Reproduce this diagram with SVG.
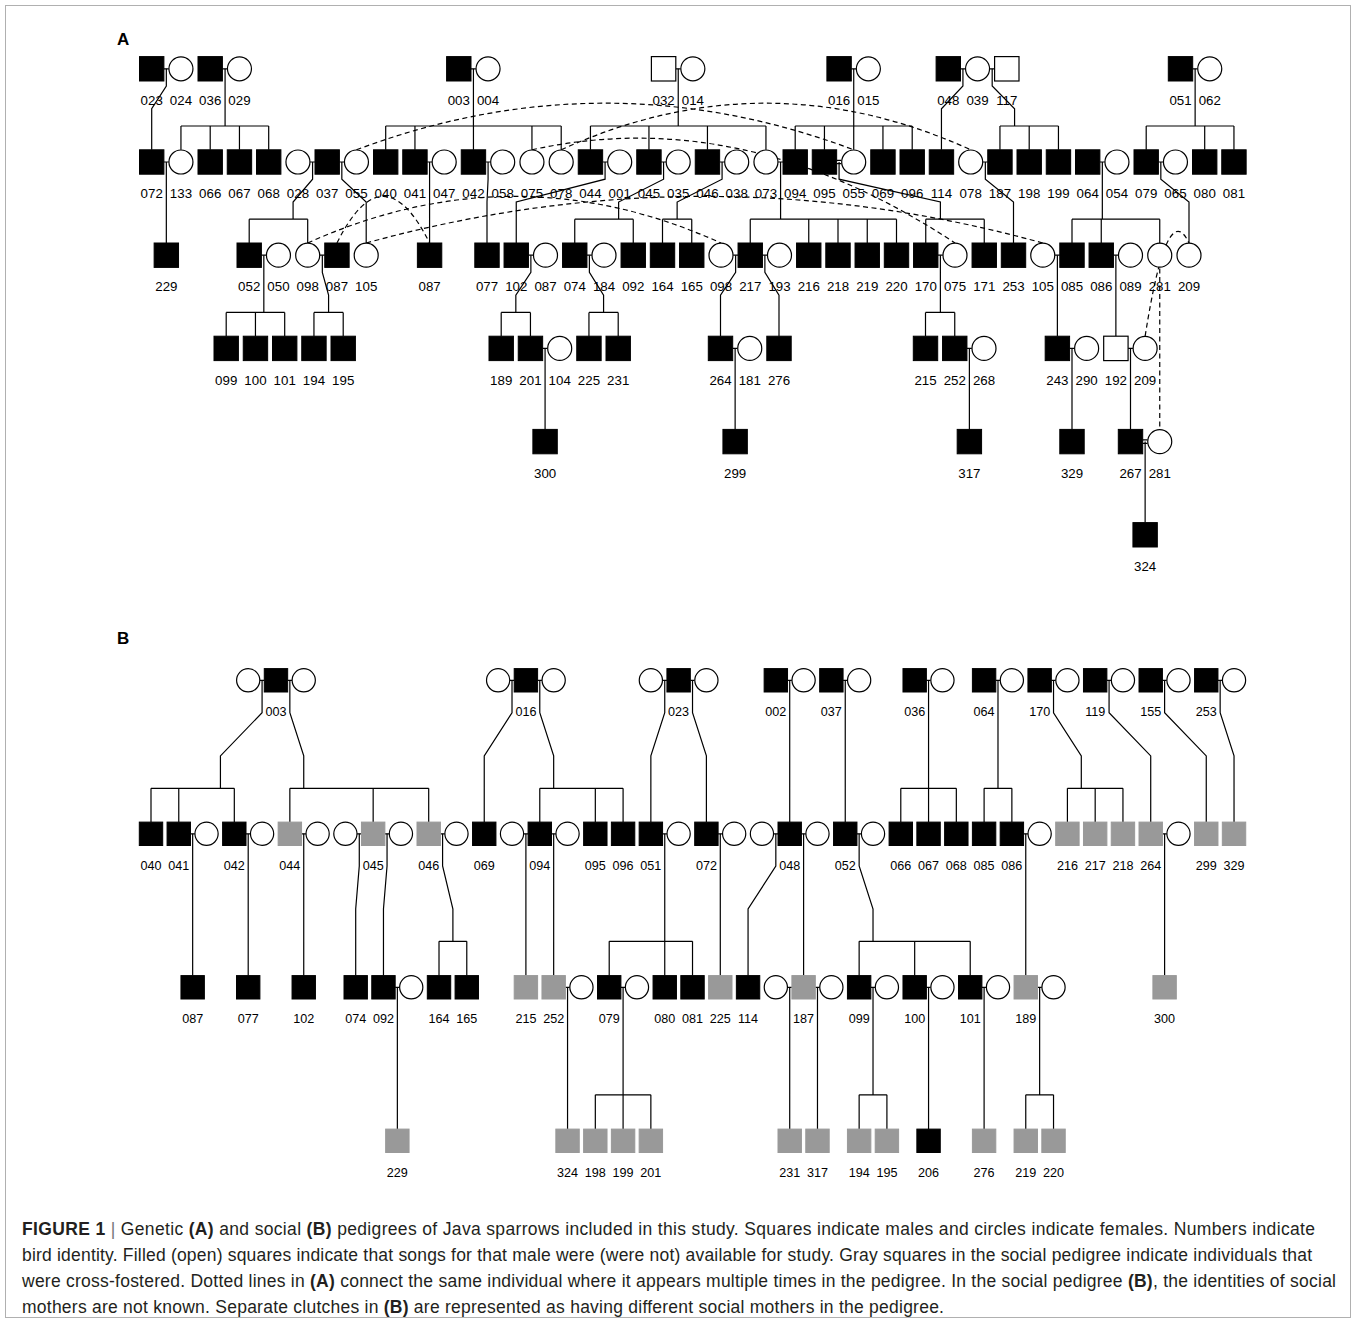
<svg xmlns="http://www.w3.org/2000/svg" width="1356" height="1323" viewBox="0 0 1356 1323">
<style>
.m{fill:#000;stroke:#000;stroke-width:1}
.o{fill:#fff;stroke:#000;stroke-width:1.2}
.g{fill:#999;stroke:#999;stroke-width:1}
.f{fill:#fff;stroke:#000;stroke-width:1.2}
.l{fill:none;stroke:#000;stroke-width:1.2}
.d{fill:none;stroke:#000;stroke-width:1.2;stroke-dasharray:5 3.5}
text{font-family:"Liberation Sans",Arial,sans-serif;fill:#000}
.ta{font-size:13.3px;text-anchor:middle}
.tb{font-size:12.6px;text-anchor:middle}
.hd{font-size:17px;font-weight:bold}
.cap{font-size:17.5px;fill:#231f20}
.bo{font-weight:bold}
</style>
<rect x="5.5" y="5.5" width="1345" height="1312" fill="#fff" stroke="#b0b0b0" stroke-width="1"/>
<text class="hd" x="117" y="45">A</text>
<text class="hd" x="117" y="644">B</text>

<g id="connectors-A">
<path class="l" d="M163.9 68.8H168.75M222.4 68.8H227.25M471 68.8H475.85M675.8 68.8H680.65M851.3 68.8H856.15M960.5 68.8H965.35M989.75 68.8H994.6M1192.7 68.8H1197.55"/>
<path class="l" d="M163.9 162H168.75M310.15 162H315M339.4 162H344.25M427.15 162H432M485.65 162H490.5M602.65 162H607.5M661.15 162H666M719.65 162H724.5M778.15 162H783M836.65 160.4H841.5M836.65 163.6H841.5M982.9 162H987.75M1099.9 162H1104.75M1158.4 162H1163.25"/>
<path class="l" d="M261.4 255.2H266.25M319.9 255.2H324.75M528.45 255.2H533.3M586.95 255.2H591.8M733.2 255.2H738.05M762.45 255.2H767.3M937.95 255.2H942.8M1054.95 255.2H1059.8M1113.45 255.2H1118.3"/>
<path class="l" d="M542.65 348.4H547.5M732.7 348.4H737.55M966.95 348.4H971.8M1069.58 348.4H1074.43M1128.08 348.4H1132.93M1142.7 439.9H1147.55M1142.7 443.3H1147.55"/>
<path class="l" d="M166.33 68.8V86L151.7 108.8V149.8
M225.08 68.8V126M180.95 126H268.7M180.95 126V149.8M210.2 126V149.8M239.45 126V149.8M268.7 126V149.8
M473.43 68.8V126M385.7 126H561.2M385.7 126V149.8M414.95 126V149.8M473.45 126V149.8M531.95 126V149.8M561.2 126V149.8
M678.23 68.8V126M590.45 126H765.95M590.45 126V149.8M648.95 126V149.8M707.45 126V149.8M765.95 126V149.8
M853.73 68.8V149.8M795.2 126H912.2M795.2 126V149.8M824.45 126V149.8M882.95 126V149.8M912.2 126V149.8
M962.93 68.8V86L941.45 108.8V149.8
M992.18 68.8V86L1014.58 108.8V126M999.95 126H1058.45M999.95 126V149.8M1029.2 126V149.8M1058.45 126V149.8
M1195.13 68.8V126M1146.2 126H1233.95M1146.2 126V149.8M1204.7 126V149.8M1233.95 126V149.8"/>
<path class="l" d="M166.33 162V243
M312.58 162V179.2L293.08 202V219.2M249.2 219.2H307.7M249.2 219.2V243M307.7 219.2V243
M341.83 162V179.2L366.2 202V243
M429.58 162V243
M488.08 162V179.2L487 202V243
M605.08 162V179.2L516.25 202V243
M663.58 162V179.2L618.63 202V219.2M574.75 219.2H633.25M574.75 219.2V243M633.25 219.2V243
M722.08 162V179.2L677.13 202V219.2M662.5 219.2H691.75M662.5 219.2V243M691.75 219.2V243
M780.58 162V219.2M750.25 219.2H896.5M750.25 219.2V243M808.75 219.2V243M838 219.2V243M867.25 219.2V243M896.5 219.2V243
M839.08 162V179.2L940.38 202V219.2M925.75 219.2H984.25M925.75 219.2V243M984.25 219.2V243
M985.33 162V179.2L1013.5 202V243
M1102.33 162V219.2M1072 219.2H1159.75M1072 219.2V243M1101.25 219.2V243M1159.75 219.2V243
M1160.83 162V179.2L1189 202V243"/>
<path class="l" d="M263.83 255.2V312.4M226.2 312.4H284.7M226.2 312.4V336.2M255.45 312.4V336.2M284.7 312.4V336.2
M322.33 255.2V272.4L328.58 295.2V312.4M313.95 312.4H343.2M313.95 312.4V336.2M343.2 312.4V336.2
M530.88 255.2V272.4L515.83 295.2V312.4M501.2 312.4H530.45M501.2 312.4V336.2M530.45 312.4V336.2
M589.38 255.2V272.4L603.58 295.2V312.4M588.95 312.4H618.2M588.95 312.4V336.2M618.2 312.4V336.2
M735.63 255.2V272.4L720.5 295.2V336.2
M764.88 255.2V272.4L779 295.2V336.2
M940.38 255.2V312.4M925.5 312.4H954.75M925.5 312.4V336.2M954.75 312.4V336.2
M1057.38 255.2V336.2
M1115.88 255.2V336.2
M545.08 348.4V429.4M735.13 348.4V429.4M969.38 348.4V429.4M1072 348.4V429.4M1130.5 348.4V429.4
M1145.13 441.6V522.6"/>
<path class="d" d="M356.45 149.8Q605.08 56.6 853.7 149.8
M531.95 149.8Q743.48 103.2 955 243
M561.2 149.8Q765.95 56.6 970.7 149.8
M336.95 243Q383.27 149.8 429.58 243
M307.7 243Q514.35 149.8 721 243
M366.2 243Q704.48 149.8 1042.75 243
M1145.13 336.2Q1167.07 196.4 1189 243
M1159.75 243V429.4"/>
</g>

<g id="connectors-B">
<path class="l" d="M259.9 680.3H264.27M287.67 680.3H292.04M509.83 680.3H514.2M537.6 680.3H541.97M662.56 680.3H666.93M690.33 680.3H694.7M787.53 680.3H791.9M843.07 680.3H847.44M926.38 680.3H930.75M995.8 680.3H1000.17M1051.34 680.3H1055.71M1106.88 680.3H1111.25M1162.42 680.3H1166.79M1217.96 680.3H1222.33"/>
<path class="l" d="M190.47 833.8H194.84M246.01 833.8H250.38M301.55 833.8H305.92M357.09 833.8H361.46M384.86 833.8H389.23M440.4 833.8H444.77M523.71 833.8H528.08M551.48 833.8H555.85M662.56 833.8H666.93M718.1 833.8H722.47M773.64 833.8H778.01M801.41 833.8H805.78M856.95 833.8H861.32M1023.57 833.8H1027.94M1162.42 833.8H1166.79"/>
<path class="l" d="M395.17 987.3H399.54M565.37 987.3H569.74M620.91 987.3H625.28M787.53 987.3H791.9M815.3 987.3H819.67M870.84 987.3H875.21M926.38 987.3H930.75M981.92 987.3H986.29M1037.46 987.3H1041.83"/>
<path class="l" d="M262.08 680.3V712.7L220.43 755.9V788.3M151 788.3H234.31M151 788.3V822.1M178.77 788.3V822.1M234.31 788.3V822.1
M289.85 680.3V712.7L303.74 755.9V788.3M289.85 788.3H428.7M289.85 788.3V822.1M373.16 788.3V822.1M428.7 788.3V822.1
M512.01 680.3V712.7L484.24 755.9V822.1
M539.78 680.3V712.7L553.67 755.9V788.3M539.78 788.3H623.09M539.78 788.3V822.1M595.32 788.3V822.1M623.09 788.3V822.1
M664.75 680.3V712.7L650.86 755.9V822.1
M692.52 680.3V712.7L706.4 755.9V822.1
M789.71 680.3V822.1
M845.25 680.3V822.1
M928.56 680.3V822.1M900.79 788.3H956.33M900.79 788.3V822.1M956.33 788.3V822.1
M997.99 680.3V788.3M984.1 788.3H1011.87M984.1 788.3V822.1M1011.87 788.3V822.1
M1053.53 680.3V712.7L1081.3 755.9V788.3M1067.41 788.3H1122.95M1067.41 788.3V822.1M1095.18 788.3V822.1M1122.95 788.3V822.1
M1109.07 680.3V712.7L1150.72 755.9V822.1
M1164.61 680.3V712.7L1206.26 755.9V822.1
M1220.15 680.3V712.7L1234.03 755.9V822.1"/>
<path class="l" d="M192.66 833.8V975.6M248.2 833.8V975.6M303.74 833.8V975.6
M359.28 833.8V866L355.7 909V975.6
M387.05 833.8V866L383.47 909V975.6
M442.59 833.8V866L452.9 909V941.3M439.01 941.3H466.78M439.01 941.3V975.6M466.78 941.3V975.6
M525.9 833.8V975.6M553.67 833.8V975.6
M664.75 833.8V975.6M609.21 941.3H692.52M609.21 941.3V975.6M692.52 941.3V975.6
M720.29 833.8V975.6
M775.83 833.8V866L748.06 909V975.6
M803.6 833.8V975.6
M859.14 833.8V866L873.02 909V941.3M859.14 941.3H970.22M859.14 941.3V975.6M914.68 941.3V975.6M970.22 941.3V975.6
M1025.76 833.8V975.6M1164.61 833.8V975.6"/>
<path class="l" d="M397.36 987.3V1129.1M567.55 987.3V1129.1
M623.09 987.3V1129.1M595.32 1094.8H650.86M595.32 1094.8V1129.1M650.86 1094.8V1129.1
M789.71 987.3V1129.1M817.48 987.3V1129.1
M873.02 987.3V1094.8M859.14 1094.8H886.91M859.14 1094.8V1129.1M886.91 1094.8V1129.1
M928.56 987.3V1129.1M984.1 987.3V1129.1
M1039.64 987.3V1094.8M1025.76 1094.8H1053.53M1025.76 1094.8V1129.1M1053.53 1094.8V1129.1"/>
</g>

<g id="nodes-A">
<g id="a1-023"><rect class="m" x="139.5" y="56.6" width="24.4" height="24.4"/><text class="ta" x="151.7" y="105">023</text></g>
<g id="a1-024"><circle class="f" cx="180.95" cy="68.8" r="12"/><text class="ta" x="180.95" y="105">024</text></g>
<g id="a1-036"><rect class="m" x="198" y="56.6" width="24.4" height="24.4"/><text class="ta" x="210.2" y="105">036</text></g>
<g id="a1-029"><circle class="f" cx="239.45" cy="68.8" r="12"/><text class="ta" x="239.45" y="105">029</text></g>
<g id="a1-003"><rect class="m" x="446.6" y="56.6" width="24.4" height="24.4"/><text class="ta" x="458.8" y="105">003</text></g>
<g id="a1-004"><circle class="f" cx="488.05" cy="68.8" r="12"/><text class="ta" x="488.05" y="105">004</text></g>
<g id="a1-032"><rect class="o" x="651.4" y="56.6" width="24.4" height="24.4"/><text class="ta" x="663.6" y="105">032</text></g>
<g id="a1-014"><circle class="f" cx="692.85" cy="68.8" r="12"/><text class="ta" x="692.85" y="105">014</text></g>
<g id="a1-016"><rect class="m" x="826.9" y="56.6" width="24.4" height="24.4"/><text class="ta" x="839.1" y="105">016</text></g>
<g id="a1-015"><circle class="f" cx="868.35" cy="68.8" r="12"/><text class="ta" x="868.35" y="105">015</text></g>
<g id="a1-048"><rect class="m" x="936.1" y="56.6" width="24.4" height="24.4"/><text class="ta" x="948.3" y="105">048</text></g>
<g id="a1-039"><circle class="f" cx="977.55" cy="68.8" r="12"/><text class="ta" x="977.55" y="105">039</text></g>
<g id="a1-117"><rect class="o" x="994.6" y="56.6" width="24.4" height="24.4"/><text class="ta" x="1006.8" y="105">117</text></g>
<g id="a1-051"><rect class="m" x="1168.3" y="56.6" width="24.4" height="24.4"/><text class="ta" x="1180.5" y="105">051</text></g>
<g id="a1-062"><circle class="f" cx="1209.75" cy="68.8" r="12"/><text class="ta" x="1209.75" y="105">062</text></g>

<g id="a2-072"><rect class="m" x="139.5" y="149.8" width="24.4" height="24.4"/><text class="ta" x="151.7" y="198.2">072</text></g>
<g id="a2-133"><circle class="f" cx="180.95" cy="162" r="12"/><text class="ta" x="180.95" y="198.2">133</text></g>
<g id="a2-066"><rect class="m" x="198" y="149.8" width="24.4" height="24.4"/><text class="ta" x="210.2" y="198.2">066</text></g>
<g id="a2-067"><rect class="m" x="227.25" y="149.8" width="24.4" height="24.4"/><text class="ta" x="239.45" y="198.2">067</text></g>
<g id="a2-068"><rect class="m" x="256.5" y="149.8" width="24.4" height="24.4"/><text class="ta" x="268.7" y="198.2">068</text></g>
<g id="a2-028"><circle class="f" cx="297.95" cy="162" r="12"/><text class="ta" x="297.95" y="198.2">028</text></g>
<g id="a2-037"><rect class="m" x="315" y="149.8" width="24.4" height="24.4"/><text class="ta" x="327.2" y="198.2">037</text></g>
<g id="a2-055a"><circle class="f" cx="356.45" cy="162" r="12"/><text class="ta" x="356.45" y="198.2">055</text></g>
<g id="a2-040"><rect class="m" x="373.5" y="149.8" width="24.4" height="24.4"/><text class="ta" x="385.7" y="198.2">040</text></g>
<g id="a2-041"><rect class="m" x="402.75" y="149.8" width="24.4" height="24.4"/><text class="ta" x="414.95" y="198.2">041</text></g>
<g id="a2-047"><circle class="f" cx="444.2" cy="162" r="12"/><text class="ta" x="444.2" y="198.2">047</text></g>
<g id="a2-042"><rect class="m" x="461.25" y="149.8" width="24.4" height="24.4"/><text class="ta" x="473.45" y="198.2">042</text></g>
<g id="a2-058"><circle class="f" cx="502.7" cy="162" r="12"/><text class="ta" x="502.7" y="198.2">058</text></g>
<g id="a2-075"><circle class="f" cx="531.95" cy="162" r="12"/><text class="ta" x="531.95" y="198.2">075</text></g>
<g id="a2-078a"><circle class="f" cx="561.2" cy="162" r="12"/><text class="ta" x="561.2" y="198.2">078</text></g>
<g id="a2-044"><rect class="m" x="578.25" y="149.8" width="24.4" height="24.4"/><text class="ta" x="590.45" y="198.2">044</text></g>
<g id="a2-001"><circle class="f" cx="619.7" cy="162" r="12"/><text class="ta" x="619.7" y="198.2">001</text></g>
<g id="a2-045"><rect class="m" x="636.75" y="149.8" width="24.4" height="24.4"/><text class="ta" x="648.95" y="198.2">045</text></g>
<g id="a2-035"><circle class="f" cx="678.2" cy="162" r="12"/><text class="ta" x="678.2" y="198.2">035</text></g>
<g id="a2-046"><rect class="m" x="695.25" y="149.8" width="24.4" height="24.4"/><text class="ta" x="707.45" y="198.2">046</text></g>
<g id="a2-038"><circle class="f" cx="736.7" cy="162" r="12"/><text class="ta" x="736.7" y="198.2">038</text></g>
<g id="a2-073"><circle class="f" cx="765.95" cy="162" r="12"/><text class="ta" x="765.95" y="198.2">073</text></g>
<g id="a2-094"><rect class="m" x="783" y="149.8" width="24.4" height="24.4"/><text class="ta" x="795.2" y="198.2">094</text></g>
<g id="a2-095"><rect class="m" x="812.25" y="149.8" width="24.4" height="24.4"/><text class="ta" x="824.45" y="198.2">095</text></g>
<g id="a2-055b"><circle class="f" cx="853.7" cy="162" r="12"/><text class="ta" x="853.7" y="198.2">055</text></g>
<g id="a2-069"><rect class="m" x="870.75" y="149.8" width="24.4" height="24.4"/><text class="ta" x="882.95" y="198.2">069</text></g>
<g id="a2-096"><rect class="m" x="900" y="149.8" width="24.4" height="24.4"/><text class="ta" x="912.2" y="198.2">096</text></g>
<g id="a2-114"><rect class="m" x="929.25" y="149.8" width="24.4" height="24.4"/><text class="ta" x="941.45" y="198.2">114</text></g>
<g id="a2-078b"><circle class="f" cx="970.7" cy="162" r="12"/><text class="ta" x="970.7" y="198.2">078</text></g>
<g id="a2-187"><rect class="m" x="987.75" y="149.8" width="24.4" height="24.4"/><text class="ta" x="999.95" y="198.2">187</text></g>
<g id="a2-198"><rect class="m" x="1017" y="149.8" width="24.4" height="24.4"/><text class="ta" x="1029.2" y="198.2">198</text></g>
<g id="a2-199"><rect class="m" x="1046.25" y="149.8" width="24.4" height="24.4"/><text class="ta" x="1058.45" y="198.2">199</text></g>
<g id="a2-064"><rect class="m" x="1075.5" y="149.8" width="24.4" height="24.4"/><text class="ta" x="1087.7" y="198.2">064</text></g>
<g id="a2-054"><circle class="f" cx="1116.95" cy="162" r="12"/><text class="ta" x="1116.95" y="198.2">054</text></g>
<g id="a2-079"><rect class="m" x="1134" y="149.8" width="24.4" height="24.4"/><text class="ta" x="1146.2" y="198.2">079</text></g>
<g id="a2-065"><circle class="f" cx="1175.45" cy="162" r="12"/><text class="ta" x="1175.45" y="198.2">065</text></g>
<g id="a2-080"><rect class="m" x="1192.5" y="149.8" width="24.4" height="24.4"/><text class="ta" x="1204.7" y="198.2">080</text></g>
<g id="a2-081"><rect class="m" x="1221.75" y="149.8" width="24.4" height="24.4"/><text class="ta" x="1233.95" y="198.2">081</text></g>

<g id="a3-229"><rect class="m" x="154.13" y="243" width="24.4" height="24.4"/><text class="ta" x="166.33" y="291.4">229</text></g>
<g id="a3-052"><rect class="m" x="237" y="243" width="24.4" height="24.4"/><text class="ta" x="249.2" y="291.4">052</text></g>
<g id="a3-050"><circle class="f" cx="278.45" cy="255.2" r="12"/><text class="ta" x="278.45" y="291.4">050</text></g>
<g id="a3-098a"><circle class="f" cx="307.7" cy="255.2" r="12"/><text class="ta" x="307.7" y="291.4">098</text></g>
<g id="a3-087a"><rect class="m" x="324.75" y="243" width="24.4" height="24.4"/><text class="ta" x="336.95" y="291.4">087</text></g>
<g id="a3-105a"><circle class="f" cx="366.2" cy="255.2" r="12"/><text class="ta" x="366.2" y="291.4">105</text></g>
<g id="a3-087b"><rect class="m" x="417.38" y="243" width="24.4" height="24.4"/><text class="ta" x="429.58" y="291.4">087</text></g>
<g id="a3-077"><rect class="m" x="474.8" y="243" width="24.4" height="24.4"/><text class="ta" x="487" y="291.4">077</text></g>
<g id="a3-102"><rect class="m" x="504.05" y="243" width="24.4" height="24.4"/><text class="ta" x="516.25" y="291.4">102</text></g>
<g id="a3-087c"><circle class="f" cx="545.5" cy="255.2" r="12"/><text class="ta" x="545.5" y="291.4">087</text></g>
<g id="a3-074"><rect class="m" x="562.55" y="243" width="24.4" height="24.4"/><text class="ta" x="574.75" y="291.4">074</text></g>
<g id="a3-184"><circle class="f" cx="604" cy="255.2" r="12"/><text class="ta" x="604" y="291.4">184</text></g>
<g id="a3-092"><rect class="m" x="621.05" y="243" width="24.4" height="24.4"/><text class="ta" x="633.25" y="291.4">092</text></g>
<g id="a3-164"><rect class="m" x="650.3" y="243" width="24.4" height="24.4"/><text class="ta" x="662.5" y="291.4">164</text></g>
<g id="a3-165"><rect class="m" x="679.55" y="243" width="24.4" height="24.4"/><text class="ta" x="691.75" y="291.4">165</text></g>
<g id="a3-098b"><circle class="f" cx="721" cy="255.2" r="12"/><text class="ta" x="721" y="291.4">098</text></g>
<g id="a3-217"><rect class="m" x="738.05" y="243" width="24.4" height="24.4"/><text class="ta" x="750.25" y="291.4">217</text></g>
<g id="a3-193"><circle class="f" cx="779.5" cy="255.2" r="12"/><text class="ta" x="779.5" y="291.4">193</text></g>
<g id="a3-216"><rect class="m" x="796.55" y="243" width="24.4" height="24.4"/><text class="ta" x="808.75" y="291.4">216</text></g>
<g id="a3-218"><rect class="m" x="825.8" y="243" width="24.4" height="24.4"/><text class="ta" x="838" y="291.4">218</text></g>
<g id="a3-219"><rect class="m" x="855.05" y="243" width="24.4" height="24.4"/><text class="ta" x="867.25" y="291.4">219</text></g>
<g id="a3-220"><rect class="m" x="884.3" y="243" width="24.4" height="24.4"/><text class="ta" x="896.5" y="291.4">220</text></g>
<g id="a3-170"><rect class="m" x="913.55" y="243" width="24.4" height="24.4"/><text class="ta" x="925.75" y="291.4">170</text></g>
<g id="a3-075"><circle class="f" cx="955" cy="255.2" r="12"/><text class="ta" x="955" y="291.4">075</text></g>
<g id="a3-171"><rect class="m" x="972.05" y="243" width="24.4" height="24.4"/><text class="ta" x="984.25" y="291.4">171</text></g>
<g id="a3-253"><rect class="m" x="1001.3" y="243" width="24.4" height="24.4"/><text class="ta" x="1013.5" y="291.4">253</text></g>
<g id="a3-105b"><circle class="f" cx="1042.75" cy="255.2" r="12"/><text class="ta" x="1042.75" y="291.4">105</text></g>
<g id="a3-085"><rect class="m" x="1059.8" y="243" width="24.4" height="24.4"/><text class="ta" x="1072" y="291.4">085</text></g>
<g id="a3-086"><rect class="m" x="1089.05" y="243" width="24.4" height="24.4"/><text class="ta" x="1101.25" y="291.4">086</text></g>
<g id="a3-089"><circle class="f" cx="1130.5" cy="255.2" r="12"/><text class="ta" x="1130.5" y="291.4">089</text></g>
<g id="a3-281"><circle class="f" cx="1159.75" cy="255.2" r="12"/><text class="ta" x="1159.75" y="291.4">281</text></g>
<g id="a3-209"><circle class="f" cx="1189" cy="255.2" r="12"/><text class="ta" x="1189" y="291.4">209</text></g>

<g id="a4-099"><rect class="m" x="214" y="336.2" width="24.4" height="24.4"/><text class="ta" x="226.2" y="384.6">099</text></g>
<g id="a4-100"><rect class="m" x="243.25" y="336.2" width="24.4" height="24.4"/><text class="ta" x="255.45" y="384.6">100</text></g>
<g id="a4-101"><rect class="m" x="272.5" y="336.2" width="24.4" height="24.4"/><text class="ta" x="284.7" y="384.6">101</text></g>
<g id="a4-194"><rect class="m" x="301.75" y="336.2" width="24.4" height="24.4"/><text class="ta" x="313.95" y="384.6">194</text></g>
<g id="a4-195"><rect class="m" x="331" y="336.2" width="24.4" height="24.4"/><text class="ta" x="343.2" y="384.6">195</text></g>
<g id="a4-189"><rect class="m" x="489" y="336.2" width="24.4" height="24.4"/><text class="ta" x="501.2" y="384.6">189</text></g>
<g id="a4-201"><rect class="m" x="518.25" y="336.2" width="24.4" height="24.4"/><text class="ta" x="530.45" y="384.6">201</text></g>
<g id="a4-104"><circle class="f" cx="559.7" cy="348.4" r="12"/><text class="ta" x="559.7" y="384.6">104</text></g>
<g id="a4-225"><rect class="m" x="576.75" y="336.2" width="24.4" height="24.4"/><text class="ta" x="588.95" y="384.6">225</text></g>
<g id="a4-231"><rect class="m" x="606" y="336.2" width="24.4" height="24.4"/><text class="ta" x="618.2" y="384.6">231</text></g>
<g id="a4-264"><rect class="m" x="708.3" y="336.2" width="24.4" height="24.4"/><text class="ta" x="720.5" y="384.6">264</text></g>
<g id="a4-181"><circle class="f" cx="749.75" cy="348.4" r="12"/><text class="ta" x="749.75" y="384.6">181</text></g>
<g id="a4-276"><rect class="m" x="766.8" y="336.2" width="24.4" height="24.4"/><text class="ta" x="779" y="384.6">276</text></g>
<g id="a4-215"><rect class="m" x="913.3" y="336.2" width="24.4" height="24.4"/><text class="ta" x="925.5" y="384.6">215</text></g>
<g id="a4-252"><rect class="m" x="942.55" y="336.2" width="24.4" height="24.4"/><text class="ta" x="954.75" y="384.6">252</text></g>
<g id="a4-268"><circle class="f" cx="984" cy="348.4" r="12"/><text class="ta" x="984" y="384.6">268</text></g>
<g id="a4-243"><rect class="m" x="1045.18" y="336.2" width="24.4" height="24.4"/><text class="ta" x="1057.38" y="384.6">243</text></g>
<g id="a4-290"><circle class="f" cx="1086.63" cy="348.4" r="12"/><text class="ta" x="1086.63" y="384.6">290</text></g>
<g id="a4-192"><rect class="o" x="1103.68" y="336.2" width="24.4" height="24.4"/><text class="ta" x="1115.88" y="384.6">192</text></g>
<g id="a4-209"><circle class="f" cx="1145.13" cy="348.4" r="12"/><text class="ta" x="1145.13" y="384.6">209</text></g>

<g id="a5-300"><rect class="m" x="532.88" y="429.4" width="24.4" height="24.4"/><text class="ta" x="545.08" y="477.8">300</text></g>
<g id="a5-299"><rect class="m" x="722.93" y="429.4" width="24.4" height="24.4"/><text class="ta" x="735.13" y="477.8">299</text></g>
<g id="a5-317"><rect class="m" x="957.18" y="429.4" width="24.4" height="24.4"/><text class="ta" x="969.38" y="477.8">317</text></g>
<g id="a5-329"><rect class="m" x="1059.8" y="429.4" width="24.4" height="24.4"/><text class="ta" x="1072" y="477.8">329</text></g>
<g id="a5-267"><rect class="m" x="1118.3" y="429.4" width="24.4" height="24.4"/><text class="ta" x="1130.5" y="477.8">267</text></g>
<g id="a5-281"><circle class="f" cx="1159.75" cy="441.6" r="12"/><text class="ta" x="1159.75" y="477.8">281</text></g>
<g id="a6-324"><rect class="m" x="1132.93" y="522.6" width="24.4" height="24.4"/><text class="ta" x="1145.13" y="571">324</text></g>
</g>

<g id="nodes-B">
<g id="b1-c1"><circle class="f" cx="248.2" cy="680.3" r="11.6"/></g>
<g id="b1-003"><rect class="m" x="264.27" y="668.6" width="23.4" height="23.4"/><text class="tb" x="275.97" y="716">003</text></g>
<g id="b1-c2"><circle class="f" cx="303.74" cy="680.3" r="11.6"/></g>
<g id="b1-c3"><circle class="f" cx="498.13" cy="680.3" r="11.6"/></g>
<g id="b1-016"><rect class="m" x="514.2" y="668.6" width="23.4" height="23.4"/><text class="tb" x="525.9" y="716">016</text></g>
<g id="b1-c4"><circle class="f" cx="553.67" cy="680.3" r="11.6"/></g>
<g id="b1-c5"><circle class="f" cx="650.86" cy="680.3" r="11.6"/></g>
<g id="b1-023"><rect class="m" x="666.93" y="668.6" width="23.4" height="23.4"/><text class="tb" x="678.63" y="716">023</text></g>
<g id="b1-c6"><circle class="f" cx="706.4" cy="680.3" r="11.6"/></g>
<g id="b1-002"><rect class="m" x="764.13" y="668.6" width="23.4" height="23.4"/><text class="tb" x="775.83" y="716">002</text></g>
<g id="b1-c7"><circle class="f" cx="803.6" cy="680.3" r="11.6"/></g>
<g id="b1-037"><rect class="m" x="819.67" y="668.6" width="23.4" height="23.4"/><text class="tb" x="831.37" y="716">037</text></g>
<g id="b1-c8"><circle class="f" cx="859.14" cy="680.3" r="11.6"/></g>
<g id="b1-036"><rect class="m" x="902.98" y="668.6" width="23.4" height="23.4"/><text class="tb" x="914.68" y="716">036</text></g>
<g id="b1-c9"><circle class="f" cx="942.45" cy="680.3" r="11.6"/></g>
<g id="b1-064"><rect class="m" x="972.4" y="668.6" width="23.4" height="23.4"/><text class="tb" x="984.1" y="716">064</text></g>
<g id="b1-c10"><circle class="f" cx="1011.87" cy="680.3" r="11.6"/></g>
<g id="b1-170"><rect class="m" x="1027.94" y="668.6" width="23.4" height="23.4"/><text class="tb" x="1039.64" y="716">170</text></g>
<g id="b1-c11"><circle class="f" cx="1067.41" cy="680.3" r="11.6"/></g>
<g id="b1-119"><rect class="m" x="1083.48" y="668.6" width="23.4" height="23.4"/><text class="tb" x="1095.18" y="716">119</text></g>
<g id="b1-c12"><circle class="f" cx="1122.95" cy="680.3" r="11.6"/></g>
<g id="b1-155"><rect class="m" x="1139.02" y="668.6" width="23.4" height="23.4"/><text class="tb" x="1150.72" y="716">155</text></g>
<g id="b1-c13"><circle class="f" cx="1178.49" cy="680.3" r="11.6"/></g>
<g id="b1-253"><rect class="m" x="1194.56" y="668.6" width="23.4" height="23.4"/><text class="tb" x="1206.26" y="716">253</text></g>
<g id="b1-c14"><circle class="f" cx="1234.03" cy="680.3" r="11.6"/></g>

<g id="b2-040"><rect class="m" x="139.3" y="822.1" width="23.4" height="23.4"/><text class="tb" x="151" y="869.5">040</text></g>
<g id="b2-041"><rect class="m" x="167.07" y="822.1" width="23.4" height="23.4"/><text class="tb" x="178.77" y="869.5">041</text></g>
<g id="b2-c2"><circle class="f" cx="206.54" cy="833.8" r="11.6"/></g>
<g id="b2-042"><rect class="m" x="222.61" y="822.1" width="23.4" height="23.4"/><text class="tb" x="234.31" y="869.5">042</text></g>
<g id="b2-c4"><circle class="f" cx="262.08" cy="833.8" r="11.6"/></g>
<g id="b2-044"><rect class="g" x="278.15" y="822.1" width="23.4" height="23.4"/><text class="tb" x="289.85" y="869.5">044</text></g>
<g id="b2-c6"><circle class="f" cx="317.62" cy="833.8" r="11.6"/></g>
<g id="b2-c7"><circle class="f" cx="345.39" cy="833.8" r="11.6"/></g>
<g id="b2-045"><rect class="g" x="361.46" y="822.1" width="23.4" height="23.4"/><text class="tb" x="373.16" y="869.5">045</text></g>
<g id="b2-c9"><circle class="f" cx="400.93" cy="833.8" r="11.6"/></g>
<g id="b2-046"><rect class="g" x="417" y="822.1" width="23.4" height="23.4"/><text class="tb" x="428.7" y="869.5">046</text></g>
<g id="b2-c11"><circle class="f" cx="456.47" cy="833.8" r="11.6"/></g>
<g id="b2-069"><rect class="m" x="472.54" y="822.1" width="23.4" height="23.4"/><text class="tb" x="484.24" y="869.5">069</text></g>
<g id="b2-c13"><circle class="f" cx="512.01" cy="833.8" r="11.6"/></g>
<g id="b2-094"><rect class="m" x="528.08" y="822.1" width="23.4" height="23.4"/><text class="tb" x="539.78" y="869.5">094</text></g>
<g id="b2-c15"><circle class="f" cx="567.55" cy="833.8" r="11.6"/></g>
<g id="b2-095"><rect class="m" x="583.62" y="822.1" width="23.4" height="23.4"/><text class="tb" x="595.32" y="869.5">095</text></g>
<g id="b2-096"><rect class="m" x="611.39" y="822.1" width="23.4" height="23.4"/><text class="tb" x="623.09" y="869.5">096</text></g>
<g id="b2-051"><rect class="m" x="639.16" y="822.1" width="23.4" height="23.4"/><text class="tb" x="650.86" y="869.5">051</text></g>
<g id="b2-c19"><circle class="f" cx="678.63" cy="833.8" r="11.6"/></g>
<g id="b2-072"><rect class="m" x="694.7" y="822.1" width="23.4" height="23.4"/><text class="tb" x="706.4" y="869.5">072</text></g>
<g id="b2-c21"><circle class="f" cx="734.17" cy="833.8" r="11.6"/></g>
<g id="b2-c22"><circle class="f" cx="761.94" cy="833.8" r="11.6"/></g>
<g id="b2-048"><rect class="m" x="778.01" y="822.1" width="23.4" height="23.4"/><text class="tb" x="789.71" y="869.5">048</text></g>
<g id="b2-c24"><circle class="f" cx="817.48" cy="833.8" r="11.6"/></g>
<g id="b2-052"><rect class="m" x="833.55" y="822.1" width="23.4" height="23.4"/><text class="tb" x="845.25" y="869.5">052</text></g>
<g id="b2-c26"><circle class="f" cx="873.02" cy="833.8" r="11.6"/></g>
<g id="b2-066"><rect class="m" x="889.09" y="822.1" width="23.4" height="23.4"/><text class="tb" x="900.79" y="869.5">066</text></g>
<g id="b2-067"><rect class="m" x="916.86" y="822.1" width="23.4" height="23.4"/><text class="tb" x="928.56" y="869.5">067</text></g>
<g id="b2-068"><rect class="m" x="944.63" y="822.1" width="23.4" height="23.4"/><text class="tb" x="956.33" y="869.5">068</text></g>
<g id="b2-085"><rect class="m" x="972.4" y="822.1" width="23.4" height="23.4"/><text class="tb" x="984.1" y="869.5">085</text></g>
<g id="b2-086"><rect class="m" x="1000.17" y="822.1" width="23.4" height="23.4"/><text class="tb" x="1011.87" y="869.5">086</text></g>
<g id="b2-c32"><circle class="f" cx="1039.64" cy="833.8" r="11.6"/></g>
<g id="b2-216"><rect class="g" x="1055.71" y="822.1" width="23.4" height="23.4"/><text class="tb" x="1067.41" y="869.5">216</text></g>
<g id="b2-217"><rect class="g" x="1083.48" y="822.1" width="23.4" height="23.4"/><text class="tb" x="1095.18" y="869.5">217</text></g>
<g id="b2-218"><rect class="g" x="1111.25" y="822.1" width="23.4" height="23.4"/><text class="tb" x="1122.95" y="869.5">218</text></g>
<g id="b2-264"><rect class="g" x="1139.02" y="822.1" width="23.4" height="23.4"/><text class="tb" x="1150.72" y="869.5">264</text></g>
<g id="b2-c37"><circle class="f" cx="1178.49" cy="833.8" r="11.6"/></g>
<g id="b2-299"><rect class="g" x="1194.56" y="822.1" width="23.4" height="23.4"/><text class="tb" x="1206.26" y="869.5">299</text></g>
<g id="b2-329"><rect class="g" x="1222.33" y="822.1" width="23.4" height="23.4"/><text class="tb" x="1234.03" y="869.5">329</text></g>

<g id="b3-087"><rect class="m" x="180.96" y="975.6" width="23.4" height="23.4"/><text class="tb" x="192.66" y="1023">087</text></g>
<g id="b3-077"><rect class="m" x="236.5" y="975.6" width="23.4" height="23.4"/><text class="tb" x="248.2" y="1023">077</text></g>
<g id="b3-102"><rect class="m" x="292.04" y="975.6" width="23.4" height="23.4"/><text class="tb" x="303.74" y="1023">102</text></g>
<g id="b3-074"><rect class="m" x="344" y="975.6" width="23.4" height="23.4"/><text class="tb" x="355.7" y="1023">074</text></g>
<g id="b3-092"><rect class="m" x="371.77" y="975.6" width="23.4" height="23.4"/><text class="tb" x="383.47" y="1023">092</text></g>
<g id="b3-c1"><circle class="f" cx="411.24" cy="987.3" r="11.6"/></g>
<g id="b3-164"><rect class="m" x="427.31" y="975.6" width="23.4" height="23.4"/><text class="tb" x="439.01" y="1023">164</text></g>
<g id="b3-165"><rect class="m" x="455.08" y="975.6" width="23.4" height="23.4"/><text class="tb" x="466.78" y="1023">165</text></g>
<g id="b3-215"><rect class="g" x="514.2" y="975.6" width="23.4" height="23.4"/><text class="tb" x="525.9" y="1023">215</text></g>
<g id="b3-252"><rect class="g" x="541.97" y="975.6" width="23.4" height="23.4"/><text class="tb" x="553.67" y="1023">252</text></g>
<g id="b3-c2"><circle class="f" cx="581.44" cy="987.3" r="11.6"/></g>
<g id="b3-079"><rect class="m" x="597.51" y="975.6" width="23.4" height="23.4"/><text class="tb" x="609.21" y="1023">079</text></g>
<g id="b3-c3"><circle class="f" cx="636.98" cy="987.3" r="11.6"/></g>
<g id="b3-080"><rect class="m" x="653.05" y="975.6" width="23.4" height="23.4"/><text class="tb" x="664.75" y="1023">080</text></g>
<g id="b3-081"><rect class="m" x="680.82" y="975.6" width="23.4" height="23.4"/><text class="tb" x="692.52" y="1023">081</text></g>
<g id="b3-225"><rect class="g" x="708.59" y="975.6" width="23.4" height="23.4"/><text class="tb" x="720.29" y="1023">225</text></g>
<g id="b3-114"><rect class="m" x="736.36" y="975.6" width="23.4" height="23.4"/><text class="tb" x="748.06" y="1023">114</text></g>
<g id="b3-c4"><circle class="f" cx="775.83" cy="987.3" r="11.6"/></g>
<g id="b3-187"><rect class="g" x="791.9" y="975.6" width="23.4" height="23.4"/><text class="tb" x="803.6" y="1023">187</text></g>
<g id="b3-c5"><circle class="f" cx="831.37" cy="987.3" r="11.6"/></g>
<g id="b3-099"><rect class="m" x="847.44" y="975.6" width="23.4" height="23.4"/><text class="tb" x="859.14" y="1023">099</text></g>
<g id="b3-c6"><circle class="f" cx="886.91" cy="987.3" r="11.6"/></g>
<g id="b3-100"><rect class="m" x="902.98" y="975.6" width="23.4" height="23.4"/><text class="tb" x="914.68" y="1023">100</text></g>
<g id="b3-c7"><circle class="f" cx="942.45" cy="987.3" r="11.6"/></g>
<g id="b3-101"><rect class="m" x="958.52" y="975.6" width="23.4" height="23.4"/><text class="tb" x="970.22" y="1023">101</text></g>
<g id="b3-c8"><circle class="f" cx="997.99" cy="987.3" r="11.6"/></g>
<g id="b3-189"><rect class="g" x="1014.06" y="975.6" width="23.4" height="23.4"/><text class="tb" x="1025.76" y="1023">189</text></g>
<g id="b3-c9"><circle class="f" cx="1053.53" cy="987.3" r="11.6"/></g>
<g id="b3-300"><rect class="g" x="1152.91" y="975.6" width="23.4" height="23.4"/><text class="tb" x="1164.61" y="1023">300</text></g>

<g id="b4-229"><rect class="g" x="385.66" y="1129.1" width="23.4" height="23.4"/><text class="tb" x="397.36" y="1176.5">229</text></g>
<g id="b4-324"><rect class="g" x="555.85" y="1129.1" width="23.4" height="23.4"/><text class="tb" x="567.55" y="1176.5">324</text></g>
<g id="b4-198"><rect class="g" x="583.62" y="1129.1" width="23.4" height="23.4"/><text class="tb" x="595.32" y="1176.5">198</text></g>
<g id="b4-199"><rect class="g" x="611.39" y="1129.1" width="23.4" height="23.4"/><text class="tb" x="623.09" y="1176.5">199</text></g>
<g id="b4-201"><rect class="g" x="639.16" y="1129.1" width="23.4" height="23.4"/><text class="tb" x="650.86" y="1176.5">201</text></g>
<g id="b4-231"><rect class="g" x="778.01" y="1129.1" width="23.4" height="23.4"/><text class="tb" x="789.71" y="1176.5">231</text></g>
<g id="b4-317"><rect class="g" x="805.78" y="1129.1" width="23.4" height="23.4"/><text class="tb" x="817.48" y="1176.5">317</text></g>
<g id="b4-194"><rect class="g" x="847.44" y="1129.1" width="23.4" height="23.4"/><text class="tb" x="859.14" y="1176.5">194</text></g>
<g id="b4-195"><rect class="g" x="875.21" y="1129.1" width="23.4" height="23.4"/><text class="tb" x="886.91" y="1176.5">195</text></g>
<g id="b4-206"><rect class="m" x="916.86" y="1129.1" width="23.4" height="23.4"/><text class="tb" x="928.56" y="1176.5">206</text></g>
<g id="b4-276"><rect class="g" x="972.4" y="1129.1" width="23.4" height="23.4"/><text class="tb" x="984.1" y="1176.5">276</text></g>
<g id="b4-219"><rect class="g" x="1014.06" y="1129.1" width="23.4" height="23.4"/><text class="tb" x="1025.76" y="1176.5">219</text></g>
<g id="b4-220"><rect class="g" x="1041.83" y="1129.1" width="23.4" height="23.4"/><text class="tb" x="1053.53" y="1176.5">220</text></g>
</g>

<g id="caption">
<text class="cap" x="22" y="1235" textLength="1293" lengthAdjust="spacing"><tspan class="bo">FIGURE 1</tspan> <tspan fill="#777">|</tspan> Genetic <tspan class="bo">(A)</tspan> and social <tspan class="bo">(B)</tspan> pedigrees of Java sparrows included in this study. Squares indicate males and circles indicate females. Numbers indicate</text>
<text class="cap" x="22" y="1261" textLength="1290" lengthAdjust="spacing">bird identity. Filled (open) squares indicate that songs for that male were (were not) available for study. Gray squares in the social pedigree indicate individuals that</text>
<text class="cap" x="22" y="1287" textLength="1314" lengthAdjust="spacing">were cross-fostered. Dotted lines in <tspan class="bo">(A)</tspan> connect the same individual where it appears multiple times in the pedigree. In the social pedigree <tspan class="bo">(B)</tspan>, the identities of social</text>
<text class="cap" x="22" y="1313" textLength="922" lengthAdjust="spacing">mothers are not known. Separate clutches in <tspan class="bo">(B)</tspan> are represented as having different social mothers in the pedigree.</text>
</g>
</svg>
